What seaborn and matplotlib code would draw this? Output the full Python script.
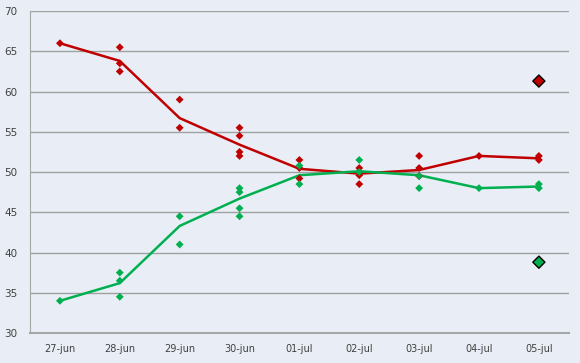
import pandas as pd
import matplotlib.pyplot as plt
import seaborn as sns

# dias
dias = ['27-jun', '28-jun', '29-jun', '30-jun', '01-jul', '02-jul', '03-jul', '04-jul', '05-jul']

# puntos individuales (indice de dia, valor)
rojo_dia = [0, 1, 1, 1, 2, 2, 3, 3, 3, 3, 4, 4, 4, 5, 5, 5, 6, 6, 6, 7, 8, 8]
rojo_val = [66, 65.5, 63.5, 62.5, 59, 55.5, 55.5, 54.5, 52.5, 52, 51.5, 50.5, 49.2,
            50.5, 49.6, 48.5, 52, 50.5, 49.5, 52, 52, 51.5]
verde_dia = [0, 1, 1, 1, 2, 2, 3, 3, 3, 3, 4, 4, 5, 5, 6, 6, 7, 8, 8]
verde_val = [34, 37.5, 36.5, 34.5, 44.5, 41, 48, 47.5, 45.5, 44.5, 50.8, 48.5,
             51.5, 50, 49.5, 48, 48, 48.5, 48]

# medias
rojo_media = [66, 63.8, 56.7, 53.4, 50.4, 49.8, 50.25, 52, 51.7]
verde_media = [34, 36.2, 43.3, 46.7, 49.6, 50.1, 49.6, 48, 48.2]

# resultado final
rojo_final = 61.3
verde_final = 38.8

ROJO = '#C00000'
VERDE = '#00B050'
FONDO = '#E9EEF6'

sns.set_style('white')
plt.rcParams['font.family'] = ['DejaVu Sans']

fig = plt.figure(figsize=(5.8, 3.63), dpi=100, facecolor=FONDO)
ax = fig.add_axes([0.0517, 0.0826, 0.929, 0.887])
ax.set_facecolor(FONDO)

x = list(range(len(dias)))
sns.lineplot(x=x, y=rojo_media, color=ROJO, lw=1.8, ax=ax, zorder=3)
sns.lineplot(x=x, y=verde_media, color=VERDE, lw=1.8, ax=ax, zorder=3)

puntos = pd.DataFrame({
    'dia': rojo_dia + verde_dia,
    'valor': rojo_val + verde_val,
    'serie': ['r'] * len(rojo_dia) + ['v'] * len(verde_dia),
})
sns.scatterplot(data=puntos, x='dia', y='valor', hue='serie',
                palette={'r': ROJO, 'v': VERDE}, marker='D', s=16,
                linewidth=0, legend=False, ax=ax, zorder=4)

sns.scatterplot(x=[8, 8], y=[rojo_final, verde_final], hue=['r', 'v'],
                palette={'r': ROJO, 'v': VERDE}, marker='D', s=38,
                edgecolor='black', linewidth=1, legend=False, ax=ax, zorder=5)

ax.set_xlim(-0.5, 8.5)
ax.set_ylim(30, 70)
ax.set_yticks(range(30, 71, 5))
ax.set_xticks(x)
ax.set_xticklabels(dias)
ax.set_xticks([i - 0.5 for i in range(len(dias) + 1)], minor=True)
ax.tick_params(axis='x', which='major', length=0, pad=8, labelsize=7, colors='#404040')
ax.tick_params(axis='x', which='minor', length=4, color='#A6A6A6', width=1)
ax.tick_params(axis='y', length=4, color='#A6A6A6', labelsize=7.5, colors='#404040', pad=5)
ax.set_xlabel('')
ax.set_ylabel('')

ax.grid(axis='y', color='#A0A0A0', lw=1)
ax.set_axisbelow(True)
for s in ['top', 'right']:
    ax.spines[s].set_visible(False)
ax.spines['left'].set_color('#A6A6A6')
ax.spines['bottom'].set_color('#A6A6A6')
ax.spines['bottom'].set_linewidth(1.5)

fig.savefig('out.png', dpi=100, facecolor=FONDO)
